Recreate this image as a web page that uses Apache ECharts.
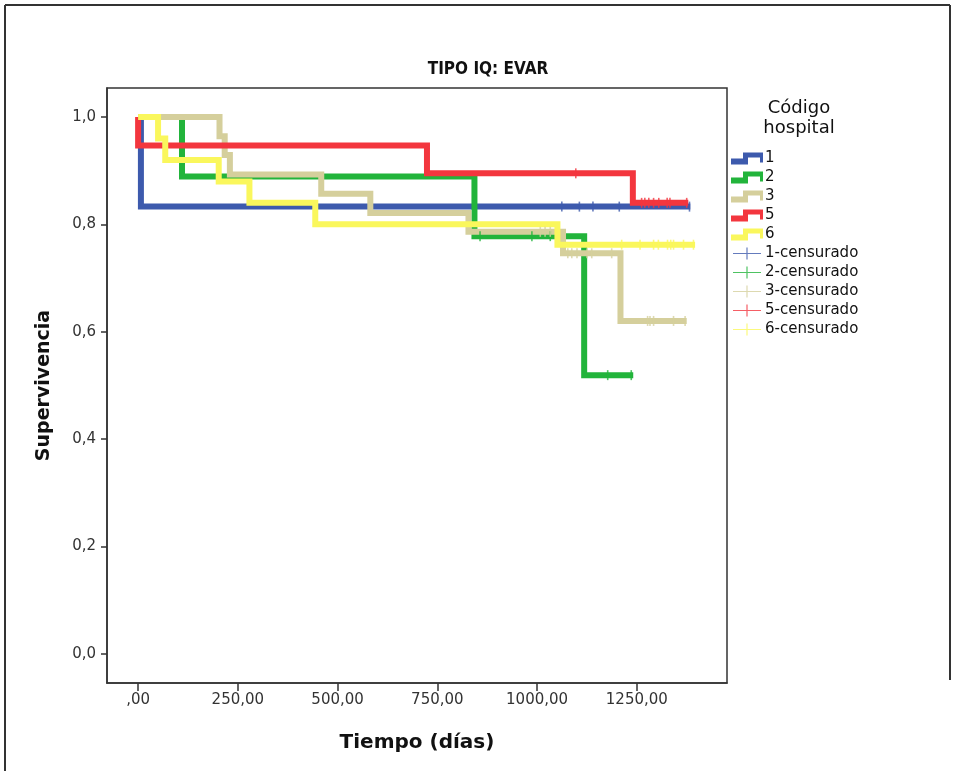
<!DOCTYPE html>
<html>
<head>
<meta charset="utf-8">
<script src="https://cdn.jsdelivr.net/npm/echarts@6/dist/echarts.min.js"></script>
<style>
  html, body { margin: 0; padding: 0; background: #ffffff; }
  #chart { width: 955px; height: 771px; }
</style>
</head>
<body>
<div id="chart"></div>
<script>
// Hospital codes and their colours
const groupNames = ['1', '2', '3', '5', '6'];
const groupColors = ['#3d5aad', '#22b43b', '#d5cf9c', '#f3363e', '#faf75c'];

// Kaplan-Meier steps: time (days) and survival after each step
const times1 = [0, 7, 1384];
const surv1  = [1, 0.833, 0.833];
const times2 = [0, 110, 843, 1118, 1241];
const surv2  = [1, 0.889, 0.778, 0.519, 0.519];
const times3 = [0, 204, 217, 230, 459, 582, 828, 1065, 1209, 1375];
const surv3  = [1, 0.964, 0.929, 0.893, 0.857, 0.821, 0.786, 0.746, 0.620, 0.620];
const times5 = [0, 0, 724, 1240, 1379];
const surv5  = [1, 0.947, 0.895, 0.840, 0.840];
const times6 = [0, 50, 68, 202, 279, 444, 1051, 1396];
const surv6  = [1, 0.96, 0.92, 0.88, 0.84, 0.80, 0.762, 0.762];

// Censored observation times (days)
const cens1 = [1062, 1106, 1140, 1206, 1382];
const cens2 = [857, 987, 1033, 1177, 1236];
const cens3 = [1008, 1020, 1033, 1077, 1087, 1100, 1125, 1137, 1187, 1277, 1283, 1292, 1342, 1371];
const cens5 = [1097, 1262, 1270, 1280, 1292, 1305, 1326, 1333, 1375];
const cens6 = [1212, 1258, 1292, 1304, 1327, 1335, 1342, 1367, 1392];

// Axis ticks
const xTicks = [0, 250, 500, 750, 1000, 1250];
const yTicks = [0, 0.2, 0.4, 0.6, 0.8, 1.0];

const allTimes = [times1, times2, times3, times5, times6];
const allSurv = [surv1, surv2, surv3, surv5, surv6];
const allCens = [cens1, cens2, cens3, cens5, cens6];

// survival level of a curve at time t (value of the step in force)
function levelAt(times, surv, t) {
  let v = surv[0];
  for (let i = 0; i < times.length; i++) {
    if (times[i] <= t) v = surv[i];
  }
  return v;
}

const stepIcon = 'path://M0,6L12,6L12,0L32,0L32,10L29,10L29,5L17,5L17,12L0,12Z';
const censIcon = 'path://M0,5.5L28,5.5L28,6.6L0,6.6ZM13.4,0L14.6,0L14.6,12L13.4,12Z';

const series = [];
groupNames.forEach((g, i) => {
  series.push({
    name: g,
    type: 'line',
    step: 'end',
    symbol: 'none',
    showSymbol: false,
    silent: true,
    z: 2 + i,
    itemStyle: { color: groupColors[i] },
    lineStyle: { color: groupColors[i], width: 6, cap: 'butt', join: 'miter' },
    data: allTimes[i].map((t, j) => [t, allSurv[i][j]])
  });
});
groupNames.forEach((g, i) => {
  series.push({
    name: g + '-censurado',
    type: 'scatter',
    symbol: 'rect',
    symbolSize: [1.6, 10],
    silent: true,
    z: 10,
    itemStyle: { color: groupColors[i] },
    data: allCens[i].map(t => [t, levelAt(allTimes[i], allSurv[i], t)])
  });
});

const legendData = groupNames.map(g => ({ name: g, icon: stepIcon }))
  .concat(groupNames.map(g => ({ name: g + '-censurado', icon: censIcon })));

const chart = echarts.init(document.getElementById('chart'), null, { renderer: 'canvas' });
chart.setOption({
  animation: false,
  backgroundColor: '#ffffff',
  grid: {
    left: 107, right: 228, top: 88, bottom: 88,
    containLabel: false,
    outerBoundsMode: 'none',
    show: true,
    borderColor: '#333333',
    borderWidth: 1.5,
    backgroundColor: 'transparent'
  },
  xAxis: {
    type: 'value',
    min: -78,
    max: 1476,
    splitLine: { show: false },
    axisLine: { show: true, onZero: false, lineStyle: { color: '#333333', width: 1.5 } },
    axisTick: { show: true, length: 8, customValues: xTicks, lineStyle: { color: '#333333', width: 1.5 } },
    axisLabel: {
      customValues: xTicks,
      margin: 10,
      fontSize: 15,
      fontFamily: 'DejaVu Sans',
      color: '#333333',
      formatter: v => v === 0 ? ',00' : v.toFixed(2).replace('.', ',')
    },
    name: 'Tiempo (días)',
    nameLocation: 'middle',
    nameGap: 50,
    nameTextStyle: { fontSize: 20, fontWeight: 'bold', fontFamily: 'DejaVu Sans', color: '#111111' }
  },
  yAxis: {
    type: 'value',
    min: -0.0546,
    max: 1.054,
    splitLine: { show: false },
    axisLine: { show: true, onZero: false, lineStyle: { color: '#333333', width: 1.5 } },
    axisTick: { show: true, length: 6, customValues: yTicks, lineStyle: { color: '#333333', width: 1.5 } },
    axisLabel: {
      customValues: yTicks,
      margin: 11,
      fontSize: 15,
      fontFamily: 'DejaVu Sans',
      color: '#333333',
      formatter: v => v.toFixed(1).replace('.', ',')
    },
    name: 'Supervivencia',
    nameLocation: 'middle',
    nameGap: 53,
    nameTextStyle: { fontSize: 19, fontWeight: 'bold', fontFamily: 'DejaVu Sans', color: '#111111' }
  },
  legend: {
    orient: 'vertical',
    left: 731,
    top: 149,
    padding: 0,
    itemGap: 0,
    itemWidth: 32,
    itemHeight: 12,
    selectedMode: false,
    itemStyle: { borderWidth: 0 },
    textStyle: { fontSize: 15, lineHeight: 19, fontFamily: 'DejaVu Sans', color: '#111111', padding: [0, 0, 0, -3] },
    data: legendData
  },
  graphic: [
    { type: 'line', silent: true, shape: { x1: 5, y1: 5, x2: 950, y2: 5 }, style: { stroke: '#333333', lineWidth: 2 } },
    { type: 'line', silent: true, shape: { x1: 5, y1: 5, x2: 5, y2: 771 }, style: { stroke: '#333333', lineWidth: 2 } },
    { type: 'line', silent: true, shape: { x1: 950, y1: 5, x2: 950, y2: 680 }, style: { stroke: '#333333', lineWidth: 2 } },
    {
      type: 'text', silent: true, x: 488, y: 61,
      style: { text: 'TIPO IQ: EVAR', align: 'center', verticalAlign: 'top', fontSize: 17, fontWeight: 'bold', fontFamily: 'DejaVu Sans Condensed', fill: '#111111' }
    },
    {
      type: 'text', silent: true, x: 799, y: 98,
      style: { text: 'Código\nhospital', align: 'center', verticalAlign: 'top', fontSize: 18, lineHeight: 20, fontFamily: 'DejaVu Sans', fill: '#111111' }
    }
  ],
  series: series
});
</script>
</body>
</html>
